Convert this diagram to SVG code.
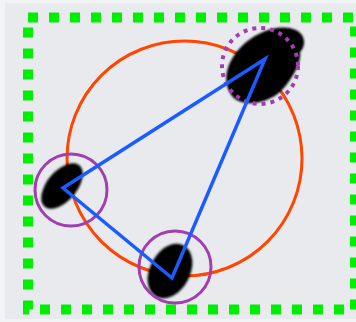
<svg xmlns="http://www.w3.org/2000/svg" width="356" height="322" viewBox="0 0 356 322">
<defs>
<style>
.blob{fill:#000;filter:url(#soft)}
.ring{fill:none;stroke:#a040b0;stroke-width:3}
.edge{stroke:#1a5cff;stroke-width:3.5;stroke-linecap:round;fill:none}
</style>
<filter id="soft" x="-20%" y="-20%" width="140%" height="140%"><feGaussianBlur stdDeviation="1"/></filter>
</defs>
<rect width="356" height="322" fill="#f2f3f5"/>
<rect x="5" y="3" width="351" height="316" fill="#e9eaee"/>
<rect id="frame" x="28" y="17.5" width="327" height="292" fill="none" stroke="#00ee00" stroke-width="10" stroke-dasharray="10 11"/>
<circle id="circumcircle" cx="184.5" cy="158.5" r="117.5" fill="none" stroke="#ff4500" stroke-width="3"/>
<g id="node-top">
<path class="blob" d="M232,96 C220,80 228,58 245,43 C262,29 282,24 296,30 C306,35 306,46 300,52 C302,62 292,80 280,92 C266,104 242,108 232,96 Z"/>
<circle cx="260" cy="66" r="38" fill="none" stroke="#a040b0" stroke-width="4" stroke-dasharray="4 5"/>
</g>
<g id="node-left">
<ellipse class="blob" cx="62" cy="186" rx="27" ry="15" transform="rotate(-50 62 186)"/>
<circle class="ring" cx="71" cy="190" r="36"/>
</g>
<g id="node-bottom">
<ellipse class="blob" cx="170" cy="271" rx="29" ry="20" transform="rotate(-62 170 271)"/>
<circle class="ring" cx="175" cy="267" r="36"/>
</g>
<g id="connectors">
<polygon class="edge" points="265,59 63,188 172,278" stroke-linejoin="miter"/>
</g>
</svg>
